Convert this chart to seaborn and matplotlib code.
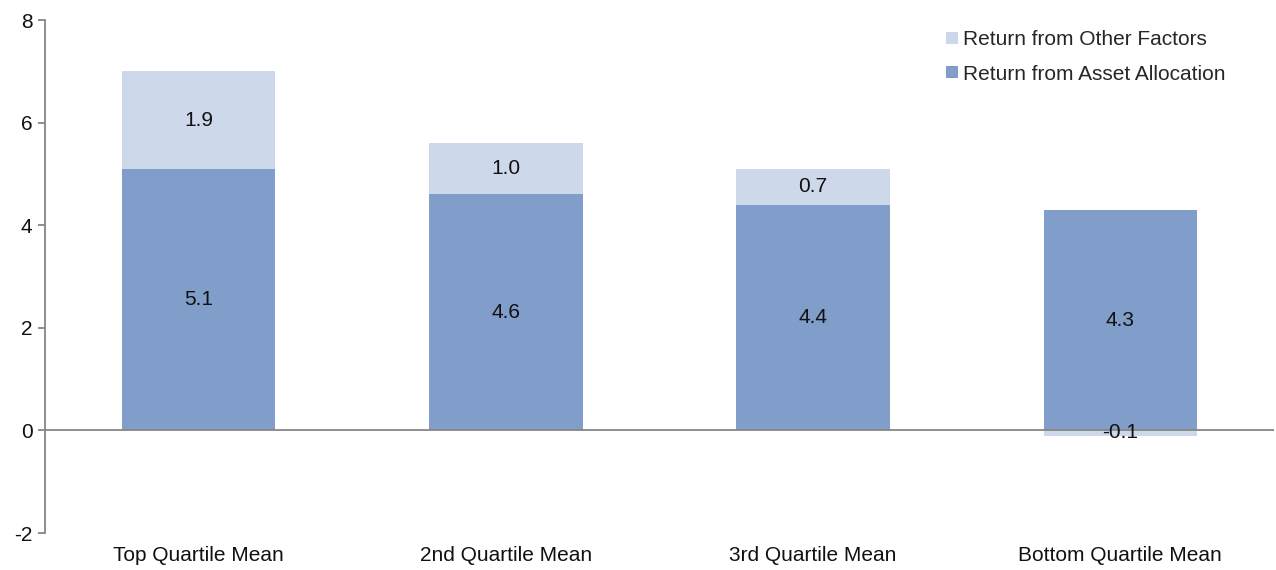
import matplotlib
matplotlib.use("Agg")
import matplotlib.pyplot as plt
from matplotlib.lines import Line2D
import seaborn as sns
import pandas as pd

categories = ["Top Quartile Mean", "2nd Quartile Mean", "3rd Quartile Mean", "Bottom Quartile Mean"]
asset_allocation = [5.1, 4.6, 4.4, 4.3]
other_factors = [1.9, 1.0, 0.7, -0.1]
y_ticks = [-2, 0, 2, 4, 6, 8]

dark_blue = "#819DCA"
light_blue = "#CDD8EA"
axis_gray = "#868686"
text_color = "#111111"
font_size = 15

sns.set_theme(style="white")
plt.rcParams["font.family"] = ["Liberation Sans", "DejaVu Sans"]

df = pd.DataFrame({
    "category": categories,
    "asset": asset_allocation,
    "other": other_factors,
})
# negative contributions hang below zero, positive ones stack on the asset bar
df["other_base"] = [a if o >= 0 else 0.0 for a, o in zip(df["asset"], df["other"])]

fig = plt.figure(figsize=(12.76, 5.70), dpi=100)
ax = fig.add_axes([0.0353, 0.0649, 0.9631, 0.9000])

sns.barplot(data=df, x="category", y="asset", color=dark_blue, width=0.5,
            saturation=1, ax=ax, linewidth=0)
sns.barplot(data=df, x="category", y="other", color=light_blue, width=0.5,
            saturation=1, ax=ax, linewidth=0, bottom=df["other_base"].tolist())

# value labels centred in each segment
for i, (a, o, b) in enumerate(zip(df["asset"], df["other"], df["other_base"])):
    ax.text(i, a / 2, f"{a:.1f}", ha="center", va="center", fontsize=font_size,
            color=text_color)
    ax.text(i, b + o / 2, f"{o:.1f}", ha="center", va="center", fontsize=font_size,
            color=text_color, zorder=5)

ax.axhline(0, color=axis_gray, linewidth=1.3, zorder=4)

ax.set_xlim(-0.5, 3.5)
ax.set_ylim(-2, 8)
ax.set_yticks(y_ticks)
ax.set_yticklabels([str(t) for t in y_ticks])
ax.set_xlabel("")
ax.set_ylabel("")

for side in ["top", "right", "bottom"]:
    ax.spines[side].set_visible(False)
ax.spines["left"].set_color(axis_gray)
ax.spines["left"].set_linewidth(1.3)

ax.tick_params(axis="y", left=True, length=5, width=1.3, color=axis_gray,
               labelsize=font_size, pad=4, labelcolor=text_color)
ax.tick_params(axis="x", bottom=False, labelsize=font_size, pad=3, labelcolor=text_color)

handles = [
    Line2D([0], [0], marker="s", linestyle="none", markersize=8,
           markerfacecolor=light_blue, markeredgewidth=0),
    Line2D([0], [0], marker="s", linestyle="none", markersize=8,
           markerfacecolor=dark_blue, markeredgewidth=0),
]
fig.legend(handles, ["Return from Other Factors", "Return from Asset Allocation"],
           loc="upper left", bbox_to_anchor=(946 / 1276, 1 - 30 / 570),
           bbox_transform=fig.transFigure, frameon=False,
           fontsize=font_size, handlelength=0.6, handletextpad=0.2,
           labelspacing=0.75, borderpad=0, borderaxespad=0)

fig.savefig("out.png", dpi=100)
